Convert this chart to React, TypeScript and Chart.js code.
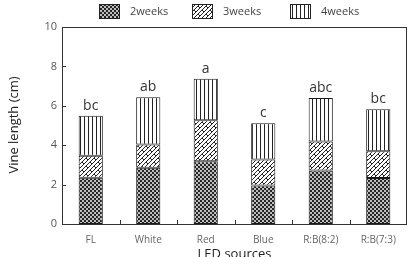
import React, { useEffect, useRef } from "react";
import { Chart, registerables } from "chart.js";

Chart.register(...registerables);

const categories = ["FL", "White", "Red", "Blue", "R:B(8:2)", "R:B(7:3)"];
const week2 = [2.35, 2.85, 3.18, 1.95, 2.71, 2.34];
const week3 = [1.12, 1.18, 2.09, 1.32, 1.48, 1.35];
const week4 = [2.02, 2.41, 2.1, 1.85, 2.2, 2.14];
const seriesNames = ["2weeks", "3weeks", "4weeks"];
const groupLetters = ["bc", "ab", "a", "c", "abc", "bc"];
const yTicks = [0, 2, 4, 6, 8, 10];

const FONT = "'Open Sans', 'Noto Sans', sans-serif";

function makeTile(size: number, draw: (c: CanvasRenderingContext2D) => void) {
  const cv = document.createElement("canvas");
  cv.width = size;
  cv.height = size;
  const c = cv.getContext("2d")!;
  draw(c);
  return cv;
}

function buildPatterns(ctx: CanvasRenderingContext2D) {
  // fine checker
  const checker = makeTile(4, (c) => {
    c.fillStyle = "#bdbdbd";
    c.fillRect(0, 0, 4, 4);
    c.fillStyle = "#262626";
    c.fillRect(0, 0, 2, 2);
    c.fillRect(2, 2, 2, 2);
  });
  // diagonal brick hatch
  const brick = makeTile(8, (c) => {
    c.fillStyle = "#ffffff";
    c.fillRect(0, 0, 8, 8);
    c.strokeStyle = "#222";
    c.lineWidth = 1;
    c.beginPath();
    for (const o of [-8, 0, 8]) {
      c.moveTo(o, 8);
      c.lineTo(o + 8, 0);
      c.moveTo(o + 4, 8);
      c.lineTo(o + 12, 0);
    }
    c.moveTo(2, 2);
    c.lineTo(4, 4);
    c.moveTo(6, 6);
    c.lineTo(8, 8);
    c.stroke();
  });
  // vertical lines
  const vlines = makeTile(4, (c) => {
    c.fillStyle = "#ffffff";
    c.fillRect(0, 0, 4, 4);
    c.fillStyle = "#222";
    c.fillRect(0, 0, 1, 4);
  });
  return [
    ctx.createPattern(checker, "repeat")!,
    ctx.createPattern(brick, "repeat")!,
    ctx.createPattern(vlines, "repeat")!,
  ];
}

const decorPlugin = {
  id: "decor",
  afterDraw(chart: any) {
    const { ctx, chartArea, scales } = chart;
    const { left, right, top, bottom } = chartArea;
    const patterns = chart.$patterns as CanvasPattern[];
    ctx.save();

    // frame
    ctx.strokeStyle = "#333";
    ctx.lineWidth = 1;
    ctx.strokeRect(left + 0.5, top + 0.5, right - left - 1, bottom - top);

    // inward y tick marks
    ctx.beginPath();
    for (const v of yTicks) {
      const y = Math.round(scales.y.getPixelForValue(v)) + 0.5;
      ctx.moveTo(left, y);
      ctx.lineTo(left + 4, y);
    }
    // inward x tick marks between categories
    const n = categories.length;
    const w = (right - left) / n;
    for (let i = 1; i < n; i++) {
      const x = Math.round(left + i * w) + 0.5;
      ctx.moveTo(x, bottom);
      ctx.lineTo(x, bottom - 4);
    }
    ctx.stroke();

    // significance letters above stacks
    const lastMeta = chart.getDatasetMeta(chart.data.datasets.length - 1);
    ctx.fillStyle = "#333";
    ctx.font = `14px ${FONT}`;
    ctx.textAlign = "center";
    ctx.textBaseline = "bottom";
    lastMeta.data.forEach((el: any, i: number) => {
      ctx.fillText(groupLetters[i], el.x, el.y - 3);
    });

    // axis titles
    ctx.fillStyle = "#222";
    ctx.font = `13px ${FONT}`;
    ctx.textBaseline = "middle";
    ctx.fillText("LED sources", (left + right) / 2, 254);
    ctx.save();
    ctx.translate(14, 125);
    ctx.rotate(-Math.PI / 2);
    ctx.fillText("Vine length (cm)", 0, 0);
    ctx.restore();

    // legend
    const boxX = [99, 192, 290];
    ctx.font = `11px ${FONT}`;
    ctx.textAlign = "left";
    seriesNames.forEach((name, i) => {
      ctx.fillStyle = patterns[i];
      ctx.fillRect(boxX[i], 4, 21, 15);
      ctx.strokeStyle = "#222";
      ctx.strokeRect(boxX[i] + 0.5, 4.5, 20, 14);
      ctx.fillStyle = "#444";
      ctx.fillText(name, boxX[i] + 31, 12);
    });

    ctx.restore();
  },
};

export default function App() {
  const ref = useRef<HTMLCanvasElement>(null);

  useEffect(() => {
    document.body.style.margin = "0";
    const canvas = ref.current!;
    const ctx = canvas.getContext("2d")!;
    const patterns = buildPatterns(ctx);
    const values = [week2, week3, week4];

    const chart = new Chart(canvas, {
      type: "bar",
      data: {
        labels: categories,
        datasets: seriesNames.map((name, i) => ({
          label: name,
          data: values[i],
          backgroundColor: patterns[i],
          borderColor: "#1a1a1a",
          borderWidth: 1,
          borderSkipped: false,
          categoryPercentage: 0.42,
          barPercentage: 1,
        })),
      },
      options: {
        responsive: false,
        animation: false,
        layout: { padding: { top: 27, right: 4, left: 0, bottom: 0 } },
        plugins: {
          legend: { display: false },
          tooltip: { enabled: false },
        },
        scales: {
          x: {
            stacked: true,
            grid: { display: false, drawTicks: false },
            border: { display: false },
            ticks: {
              color: "#666",
              font: { family: FONT, size: 10 },
              padding: 10,
            },
            afterFit: (s: any) => {
              s.height = 33;
            },
          },
          y: {
            stacked: true,
            min: 0,
            max: 10,
            grid: { display: false, drawTicks: false },
            border: { display: false },
            afterBuildTicks: (s: any) => {
              s.ticks = yTicks.map((v) => ({ value: v }));
            },
            ticks: {
              color: "#555",
              font: { family: FONT, size: 11 },
              padding: 5,
            },
            afterFit: (s: any) => {
              s.width = 62;
            },
          },
        },
      },
      plugins: [
        {
          id: "patternsRef",
          beforeInit(c: any) {
            c.$patterns = patterns;
          },
        },
        decorPlugin,
      ],
    });
    return () => chart.destroy();
  }, []);

  return (
    <div style={{ position: "fixed", left: 0, top: 0, width: 411, height: 257, background: "#fff" }}>
      <canvas ref={ref} width={411} height={257} />
    </div>
  );
}
